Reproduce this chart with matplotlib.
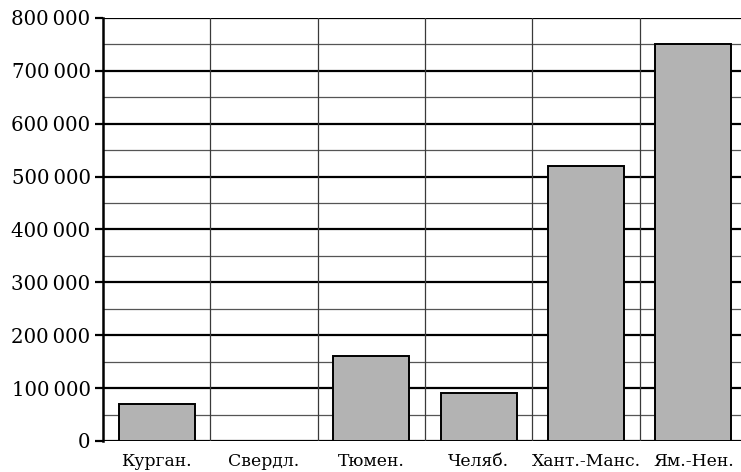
import matplotlib.pyplot as plt
import matplotlib.ticker as mtick

regions = ['Курган.', 'Свердл.', 'Тюмен.', 'Челяб.', 'Хант.-Манс.', 'Ям.-Нен.']
values = [70000, 0, 160000, 90000, 520000, 750000]
y_major = [0, 100000, 200000, 300000, 400000, 500000, 600000, 700000, 800000]

plt.rcParams['font.family'] = ['DejaVu Serif']

fig = plt.figure(figsize=(7.41, 4.72), dpi=100)
# plot area runs slightly past the right edge of the picture
ax = fig.add_axes([103/741, 1 - 441/472, 644/741, 423/472])

x = list(range(len(regions)))
ax.set_xlim(-0.5, len(regions) - 0.5)
ax.set_ylim(0, 800000)

# grid: thick major, thin minor, thin vertical separators
for v in range(50000, 800000, 100000):
    ax.axhline(v, color='#555555', lw=0.9, zorder=1)
for v in y_major:
    ax.axhline(v, color='black', lw=1.6, zorder=1)
for i in range(1, len(regions) + 1):
    ax.axvline(i - 0.5, color='#3a3a3a', lw=0.9, zorder=1)

ax.bar(x, values, width=0.71, color='#b3b3b3', edgecolor='black', lw=1.4, zorder=3)

ax.set_xticks(x)
ax.set_xticklabels(regions, fontsize=12.4)
ax.tick_params(axis='x', length=0, pad=9)

ax.set_yticks(y_major)
ax.yaxis.set_major_formatter(mtick.FuncFormatter(
    lambda v, p: '0' if v == 0 else '{:,.0f}'.format(v).replace(',', '\u2009')))
ax.tick_params(axis='y', length=6, width=1.6, labelsize=14.2, pad=3)

for s in ['top', 'right', 'bottom']:
    ax.spines[s].set_visible(False)
ax.spines['left'].set_linewidth(1.8)
ax.spines['left'].set_zorder(4)

fig.savefig('out.png', dpi=100)
